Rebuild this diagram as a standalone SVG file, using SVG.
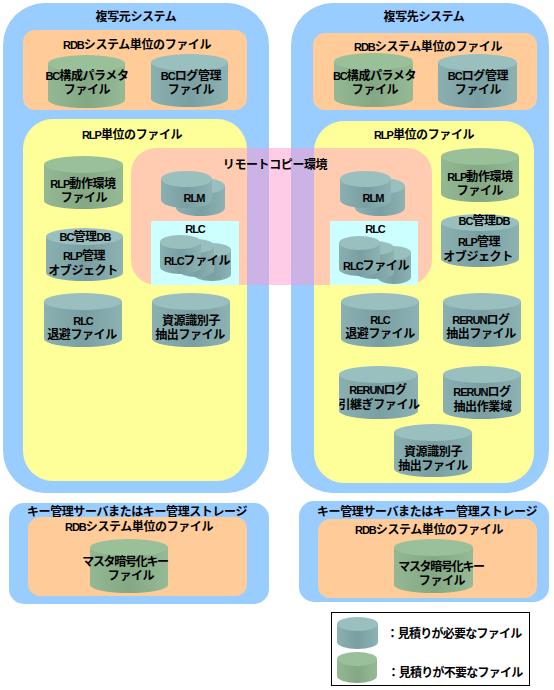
<svg xmlns="http://www.w3.org/2000/svg" width="554" height="690" viewBox="0 0 554 690">
<style>
.blue{fill:#99ccff}.org{fill:#ffcc99}.yel{fill:#ffff99}.pink{fill:#ff99cc;fill-opacity:.5}.cyan{fill:#ccffff}
.tb{fill:url(#tg)}.tt{fill:#99bfbf}.gb{fill:url(#gg)}.gt{fill:#99c099}
text{font-family:"Liberation Sans","Noto Sans CJK JP",sans-serif;font-size:12px;font-weight:700;letter-spacing:-.4px;fill:#000;text-anchor:middle}
.l{font-size:11px;letter-spacing:-1px}
.m{font-size:12px;letter-spacing:-.4px}
.n{letter-spacing:-1.3px}
.k{letter-spacing:-.75px}
</style>
<defs>
<linearGradient id="tg"><stop offset="0" stop-color="#8ab0b2"/><stop offset=".5" stop-color="#7a9fa2"/><stop offset="1" stop-color="#8cb2b4"/></linearGradient>
<linearGradient id="gg"><stop offset="0" stop-color="#93b893"/><stop offset=".5" stop-color="#83a883"/><stop offset="1" stop-color="#95ba95"/></linearGradient>
</defs>
<g id="sys-src"><rect class="blue" x="3" y="3" width="266" height="490" rx="42"/><text x="136" y="20.500">複写元システム</text></g>
<g id="sys-dst"><rect class="blue" x="291" y="3" width="258" height="490" rx="42"/><text x="424" y="20.500">複写先システム</text></g>
<g id="rdb-src"><rect class="org" x="23" y="30" width="224" height="80" rx="12"/><text x="137" y="48.500"><tspan class="l">RDB</tspan>システム単位のファイル</text></g>
<g id="rdb-dst"><rect class="org" x="313" y="33" width="224" height="77" rx="12"/><text x="428" y="50.500"><tspan class="l">RDB</tspan>システム単位のファイル</text></g>
<g id="rlp-src"><rect class="yel" x="23" y="119" width="224" height="362" rx="30"/><text x="132" y="138.500"><tspan class="l">RLP</tspan>単位のファイル</text></g>
<g id="rlp-dst"><rect class="yel" x="314" y="121" width="220" height="362" rx="30"/><text x="424" y="138.500"><tspan class="l">RLP</tspan>単位のファイル</text></g>
<g id="key-src"><rect class="blue" x="9" y="503" width="260" height="101" rx="15"/><text x="137" y="515.500">キー管理サーバまたはキー管理ストレージ</text></g>
<g id="key-dst"><rect class="blue" x="299" y="501" width="250" height="101" rx="15"/><text x="427" y="515.500">キー管理サーバまたはキー管理ストレージ</text></g>
<g id="keyrdb-src"><rect class="org" x="28" y="517" width="219" height="79" rx="12"/><text x="139" y="530.500"><tspan class="l">RDB</tspan>システム単位のファイル</text></g>
<g id="keyrdb-dst"><rect class="org" x="318" y="519" width="219" height="79" rx="12"/><text x="429" y="533.500"><tspan class="l">RDB</tspan>システム単位のファイル</text></g>
<g id="remote"><rect class="pink" x="131" y="148" width="301" height="137" rx="25"/><text x="275" y="168.500">リモートコピー環境</text></g>
<g id="rlc-src-box"><rect class="cyan" x="151" y="221" width="88" height="64"/><text class="l" x="195" y="232.500">RLC</text></g>
<g id="rlc-dst-box"><rect class="cyan" x="330" y="221" width="88" height="64"/><text class="l" x="375" y="232.500">RLC</text></g>

<g id="n1"><path class="gb" d="M48 63.500V100A38.500 8 0 0 0 125 100V63.500Z"/><ellipse class="gt" cx="86.500" cy="63.500" rx="38.500" ry="8.500"/><text x="87" y="79.500"><tspan class="l">BC</tspan>構成パラメタ<tspan x="87" dy="14">ファイル</tspan></text></g>
<g id="n2"><path class="tb" d="M151 62.500V99A38.500 8 0 0 0 228 99V62.500Z"/><ellipse class="tt" cx="189.500" cy="62.500" rx="38.500" ry="8.500"/><text x="191" y="79.500"><tspan class="l">BC</tspan>ログ管理<tspan x="191" dy="14">ファイル</tspan></text></g>
<g id="n3"><path class="gb" d="M334 61.500V99A39.500 8 0 0 0 413 99V61.500Z"/><ellipse class="gt" cx="373.500" cy="61.500" rx="39.500" ry="8.500"/><text x="374.500" y="79.500"><tspan class="l">BC</tspan>構成パラメタ<tspan x="375" dy="14">ファイル</tspan></text></g>
<g id="n4"><path class="tb" d="M438 62.500V100A39.500 8 0 0 0 517 100V62.500Z"/><ellipse class="tt" cx="477.500" cy="62.500" rx="39.500" ry="8.500"/><text x="478" y="79.500"><tspan class="l">BC</tspan>ログ管理<tspan x="478" dy="14">ファイル</tspan></text></g>
<g id="n5"><path class="gb" d="M44 164.500V201A39.500 8 0 0 0 123 201V164.500Z"/><ellipse class="gt" cx="83.500" cy="164.500" rx="39.500" ry="8.500"/><text x="83" y="187.500"><tspan class="l">RLP</tspan>動作環境<tspan x="84" dy="14">ファイル</tspan></text></g>
<g id="n6"><path class="tb" d="M46 236.500V273A38.500 8 0 0 0 123 273V236.500Z"/><ellipse class="tt" cx="84.500" cy="236.500" rx="38.500" ry="8.500"/><text x="85" y="240.500"><tspan class="l">BC</tspan>管理<tspan class="l">DB</tspan><tspan x="84" dy="19"><tspan class="l">RLP</tspan>管理</tspan><tspan x="83" dy="15">オブジェクト</tspan></text></g>
<g id="n7"><path class="tb" d="M44 301.500V339A39 8 0 0 0 122 339V301.500Z"/><ellipse class="tt" cx="83" cy="301.500" rx="39" ry="8.500"/><text x="83" y="325" class="l">RLC<tspan class="m" x="82" dy="14">退避ファイル</tspan></text></g>
<g id="n8"><path class="tb" d="M152 301.500V339A39 8 0 0 0 230 339V301.500Z"/><ellipse class="tt" cx="191" cy="301.500" rx="39" ry="8.500"/><text x="191" y="325">資源識別子<tspan x="190" dy="14">抽出ファイル</tspan></text></g>
<g id="n9"><path class="gb" d="M441 156.500V194A39 8 0 0 0 519 194V156.500Z"/><ellipse class="gt" cx="480" cy="156.500" rx="39" ry="8.500"/><text x="480" y="180.500"><tspan class="l">RLP</tspan>動作環境<tspan x="480" dy="14">ファイル</tspan></text></g>
<g id="n10"><path class="tb" d="M441 222.500V259A39 8 0 0 0 519 259V222.500Z"/><ellipse class="tt" cx="480" cy="222.500" rx="39" ry="8.500"/><text x="484" y="224.500"><tspan class="l">BC</tspan>管理<tspan class="l">DB</tspan><tspan x="479" dy="21"><tspan class="l">RLP</tspan>管理</tspan><tspan x="478" dy="15">オブジェクト</tspan></text></g>
<g id="n11"><path class="tb" d="M341 301.500V339A39 8 0 0 0 419 339V301.500Z"/><ellipse class="tt" cx="380" cy="301.500" rx="39" ry="8.500"/><text x="380" y="324" class="l">RLC<tspan class="m" x="380" dy="14">退避ファイル</tspan></text></g>
<g id="n12"><path class="tb" d="M443 301.500V339A39 8 0 0 0 521 339V301.500Z"/><ellipse class="tt" cx="482" cy="301.500" rx="39" ry="8.500"/><text x="481" y="324"><tspan class="l">RERUN</tspan>ログ<tspan x="481" dy="14">抽出ファイル</tspan></text></g>
<g id="n13"><path class="tb" d="M339 374.500V411A39.500 8 0 0 0 418 411V374.500Z"/><ellipse class="tt" cx="378.500" cy="374.500" rx="39.500" ry="8.500"/><text x="378" y="393.500"><tspan class="l">RERUN</tspan>ログ<tspan x="379" dy="15">引継ぎファイル</tspan></text></g>
<g id="n14"><path class="tb" d="M443 374.500V411A39 8 0 0 0 521 411V374.500Z"/><ellipse class="tt" cx="482" cy="374.500" rx="39" ry="8.500"/><text x="482" y="395.500"><tspan class="l">RERUN</tspan>ログ<tspan x="482.500" dy="15">抽出作業域</tspan></text></g>
<g id="n15"><path class="tb" d="M394 432.500V469A39 8 0 0 0 472 469V432.500Z"/><ellipse class="tt" cx="433" cy="432.500" rx="39" ry="8.500"/><text x="433" y="455.500">資源識別子<tspan x="433" dy="14">抽出ファイル</tspan></text></g>
<g id="n16"><path class="gb" d="M90 547.500V585A39 8 0 0 0 168 585V547.500Z"/><ellipse class="gt" cx="129" cy="547.500" rx="39" ry="8.500"/><text class="n" x="125" y="565.500">マスタ暗号化キー<tspan class="m" x="131" dy="14">ファイル</tspan></text></g>
<g id="n17"><path class="gb" d="M394 547.500V585A39.500 8 0 0 0 473 585V547.500Z"/><ellipse class="gt" cx="433.500" cy="547.500" rx="39.500" ry="8.500"/><text class="n" x="441" y="570.500">マスタ暗号化キー<tspan class="m" x="442" dy="14">ファイル</tspan></text></g>

<g id="rlm-src"><path class="tb" d="M176 186V208A24.500 8 0 0 0 225 208V186Z"/><ellipse class="tt" cx="200.500" cy="186" rx="24.500" ry="8"/><path class="tb" d="M161 179V200A25.500 8 0 0 0 212 200V179Z"/><ellipse class="tt" cx="186.500" cy="179" rx="25.500" ry="8"/><text class="l" x="194" y="201.500">RLM</text></g>
<g id="rlm-dst"><path class="tb" d="M355 186V208A25 8 0 0 0 405 208V186Z"/><ellipse class="tt" cx="380" cy="186" rx="25" ry="8"/><path class="tb" d="M340 179V200A25.500 8 0 0 0 391 200V179Z"/><ellipse class="tt" cx="365.500" cy="179" rx="25.500" ry="8"/><text class="l" x="373" y="201.500">RLM</text></g>
<g id="rlc-src"><path class="tb" d="M193 250V274A19 7 0 0 0 231 274V250Z"/><ellipse class="tt" cx="212" cy="250" rx="19" ry="7"/><path class="tb" d="M178 246V270A18 7 0 0 0 214 270V246Z"/><ellipse class="tt" cx="196" cy="246" rx="18" ry="7"/><path class="tb" d="M160 242V267A20.500 7 0 0 0 201 267V242Z"/><ellipse class="tt" cx="180.500" cy="242" rx="20.500" ry="7"/><text x="197" y="264.500"><tspan class="l">RLC</tspan>ファイル</text></g>
<g id="rlc-dst"><path class="tb" d="M377 253V277A17 7 0 0 0 411 277V253Z"/><ellipse class="tt" cx="394" cy="253" rx="17" ry="7"/><path class="tb" d="M355 248V272A19.500 7 0 0 0 394 272V248Z"/><ellipse class="tt" cx="374.500" cy="248" rx="19.500" ry="7"/><path class="tb" d="M339 243V269A20.500 7 0 0 0 380 269V243Z"/><ellipse class="tt" cx="359.500" cy="243" rx="20.500" ry="7"/><text x="376" y="269.500"><tspan class="l">RLC</tspan>ファイル</text></g>

<g id="legend"><rect x="331.500" y="612.500" width="198" height="73" fill="#fff" stroke="#000"/>
<path class="tb" d="M337 624V642A20.500 7 0 0 0 378 642V624Z"/><ellipse class="tt" cx="357.500" cy="624" rx="20.500" ry="7"/>
<path class="gb" d="M337 659V676A20 7 0 0 0 377 676V659Z"/><ellipse class="gt" cx="357" cy="659" rx="20" ry="7"/>
<text class="k" x="454" y="637.500">：見積りが必要なファイル</text><text class="k" x="455" y="676.500">：見積りが不要なファイル</text></g>
<g id="connectors"/>
</svg>
